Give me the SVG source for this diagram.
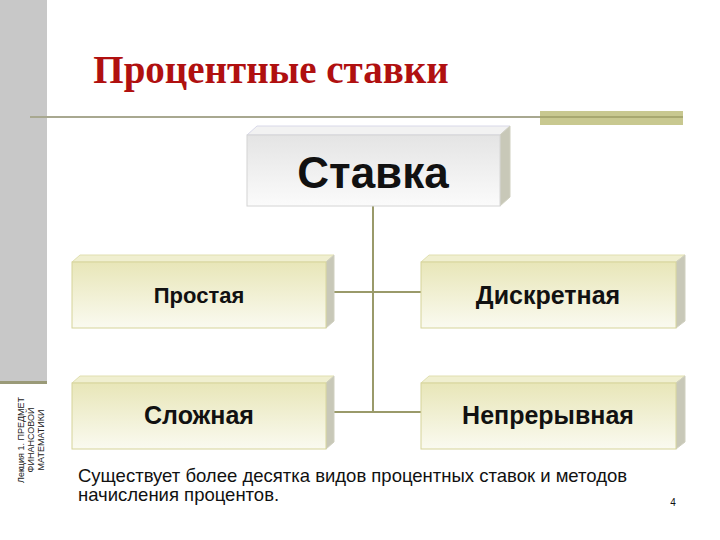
<svg xmlns="http://www.w3.org/2000/svg" width="720" height="540" viewBox="0 0 720 540">
<defs>
<linearGradient id="gy" x1="0" y1="0" x2="0" y2="1"><stop offset="0" stop-color="#e8e6b8"/><stop offset="1" stop-color="#fafaf0"/></linearGradient>
<linearGradient id="gg" x1="0" y1="0" x2="0" y2="1"><stop offset="0" stop-color="#e4e4e4"/><stop offset="1" stop-color="#fbfbfb"/></linearGradient>
<style>
.f{fill:url(#gy);stroke:#d6d49a;stroke-width:1}
.t{fill:#f0efd0;stroke:#e0dfb0}
.s{fill:#c8c8b8;stroke:#d0d0c0}
.l{font-family:"Liberation Sans",Arial,sans-serif;font-weight:bold;font-size:25px;text-anchor:middle;fill:#111}
.c{stroke:#9a9a6a;stroke-width:2;fill:none}
</style>
</defs>
<rect width="720" height="540" fill="#fff"/>
<rect x="0" y="0" width="47" height="382" fill="#c8c8c8"/>
<rect x="0" y="381" width="47" height="3" fill="#9a9a78"/>
<line x1="30" y1="117" x2="540" y2="117" stroke="#a8a890" stroke-width="2"/>
<rect x="540" y="111" width="143" height="14" fill="#c8c890"/>
<line x1="540" y1="117" x2="683" y2="117" stroke="#a8a870" stroke-width="2"/>
<text x="271" y="83" font-family="Liberation Serif,serif" font-weight="bold" font-size="39" fill="#b01010" text-anchor="middle">Процентные ставки</text>
<text transform="translate(44,440) rotate(-90)" font-family="Liberation Sans,sans-serif" font-size="9" fill="#222" text-anchor="middle"><tspan x="0" y="-20">Лекция 1. ПРЕДМЕТ</tspan><tspan x="0" y="-10">ФИНАНСОВОЙ</tspan><tspan x="0" y="0">МАТЕМАТИКИ</tspan></text>
<g id="connectors">
<path class="c" d="M373 206V412M326 292H421M326 412H421"/>
</g>
<g id="n0">
<polygon points="247,135 257,126 510,126 500,135" fill="#f2f2f2" stroke="#d8d8e8"/>
<polygon points="500,135 510,126 510,197 500,206" class="s"/>
<rect x="247" y="135" width="253" height="71" fill="url(#gg)" stroke="#d4d4d4"/>
<text x="373" y="188" font-family="Liberation Sans,Arial,sans-serif" font-size="44" font-weight="bold" text-anchor="middle" fill="#111">Ставка</text>
</g>
<g id="n1">
<polygon points="72,262 80,255 334,255 326,262" class="t"/>
<polygon points="326,262 334,255 334,321 326,328" class="s"/>
<rect x="72" y="262" width="254" height="66" class="f"/>
<text x="199" y="303" class="l" style="font-size:22px">Простая</text>
</g>
<g id="n2">
<polygon points="421,262 429,255 685,255 676,262" class="t"/>
<polygon points="676,262 685,255 685,321 676,328" class="s"/>
<rect x="421" y="262" width="255" height="66" class="f"/>
<text x="548" y="304" class="l">Дискретная</text>
</g>
<g id="n3">
<polygon points="72,383 80,376 334,376 326,383" class="t"/>
<polygon points="326,383 334,376 334,442 326,449" class="s"/>
<rect x="72" y="383" width="254" height="66" class="f"/>
<text x="199" y="424" class="l">Сложная</text>
</g>
<g id="n4">
<polygon points="421,383 429,376 685,376 676,383" class="t"/>
<polygon points="676,383 685,376 685,442 676,449" class="s"/>
<rect x="421" y="383" width="255" height="66" class="f"/>
<text x="548" y="424" class="l">Непрерывная</text>
</g>
<text font-family="Liberation Sans,Arial,sans-serif" font-size="18.5" fill="#111"><tspan x="78" y="482">Существует более десятка видов процентных ставок и методов</tspan><tspan x="78" y="501">начисления процентов.</tspan></text>
<text x="673" y="506" font-family="Liberation Sans,sans-serif" font-size="10" fill="#111" text-anchor="middle">4</text>
</svg>
